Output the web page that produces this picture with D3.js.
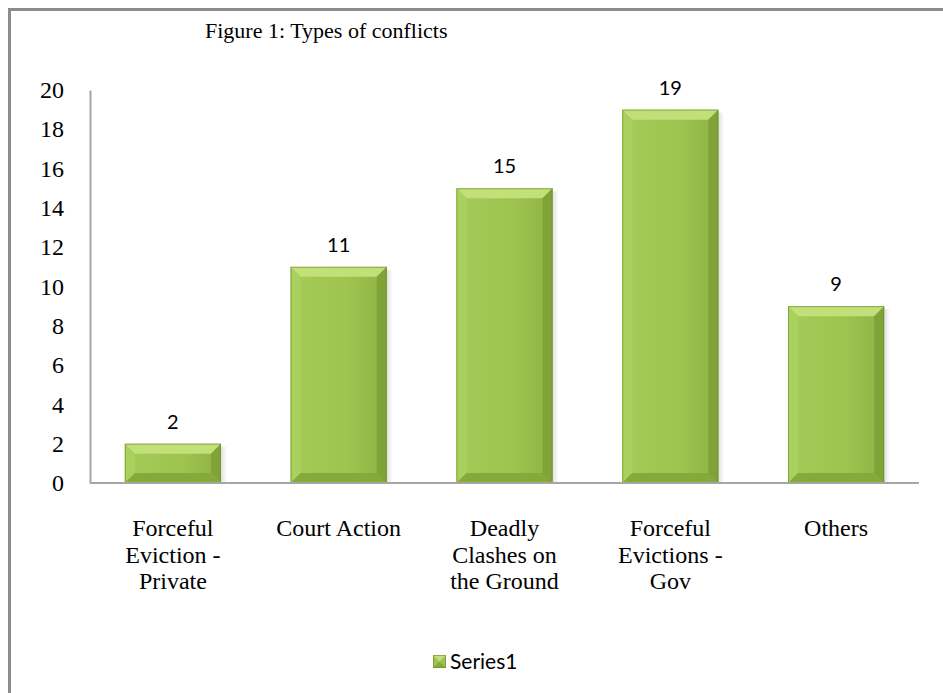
<!DOCTYPE html>
<html>
<head>
<meta charset="utf-8">
<script src="https://cdn.jsdelivr.net/npm/d3@7"></script>
<style>
  html, body { margin: 0; padding: 0; background: #fff; }
  svg { display: block; }
</style>
</head>
<body>
<svg id="chart"></svg>
<script>
// Chart data
const categories = [
  'Forceful Eviction - Private',
  'Court Action',
  'Deadly Clashes on the Ground',
  'Forceful Evictions - Gov',
  'Others'
]
// wrapped lines for the category axis, as in the picture
const categoryLines = [
  ['Forceful', 'Eviction -', 'Private'],
  ['Court Action'],
  ['Deadly', 'Clashes on', 'the Ground'],
  ['Forceful', 'Evictions -', 'Gov'],
  ['Others']
]
const values = [2, 11, 15, 19, 9]
const yTicks = [0, 2, 4, 6, 8, 10, 12, 14, 16, 18, 20]
const seriesName = 'Series1'
const titleText = 'Figure 1: Types of conflicts'

const width = 943
const height = 693
const serif = '"Liberation Serif", "Times New Roman", serif'
const sans = 'Lato, Carlito, Calibri, "Open Sans", sans-serif'
const axisColor = '#a6a6a6'

const svg = d3.select('#chart')
  .attr('width', width)
  .attr('height', height)

// outer frame (only top and left edges show in the picture)
svg.append('path')
  .attr('d', `M9.5,${height + 5} L9.5,9.5 L${width + 5},9.5`)
  .attr('fill', 'none')
  .attr('stroke', '#8c8c8c')
  .attr('stroke-width', 3)

// Scales
const x = d3.scaleBand()
  .domain(categories)
  .range([90, 919])
  .paddingInner(0.42)
  .paddingOuter(0.21)

const y = d3.scaleLinear()
  .domain([0, 20])
  .range([483, 90])

// gradients for the bevelled bars
const defs = svg.append('defs')
const face = defs.append('linearGradient')
  .attr('id', 'face').attr('x1', 0).attr('x2', 1).attr('y1', 0).attr('y2', 0)
face.append('stop').attr('offset', '0%').attr('stop-color', '#a5cb58')
face.append('stop').attr('offset', '60%').attr('stop-color', '#9ec34f')
face.append('stop').attr('offset', '100%').attr('stop-color', '#8fb344')
const shadow = defs.append('linearGradient')
  .attr('id', 'shadow').attr('x1', 0).attr('x2', 1)
shadow.append('stop').attr('offset', '0%').attr('stop-color', '#000').attr('stop-opacity', 0.12)
shadow.append('stop').attr('offset', '100%').attr('stop-color', '#000').attr('stop-opacity', 0)

// Y axis (labels only, no tick marks)
const yAxis = svg.append('g')
  .attr('transform', 'translate(90,0)')
  .call(d3.axisLeft(y).tickValues(yTicks).tickSize(0).tickPadding(26))
yAxis.select('.domain').attr('stroke', axisColor).attr('stroke-width', 2)
yAxis.selectAll('text')
  .attr('font-family', serif)
  .attr('font-size', 24)
  .attr('fill', '#000')

// Bars
const bevel = 10
svg.append('g')
  .selectAll('g')
  .data(values)
  .join('g')
  .each(function(v, i) {
    const g = d3.select(this)
    const x0 = x(categories[i])
    const x1 = x0 + x.bandwidth()
    const y0 = y(v)
    const y1 = y(0)
    const b = Math.min(bevel, (y1 - y0) / 2)

    // soft shadow on the right
    g.append('rect')
      .attr('x', x1).attr('y', y0 + 3)
      .attr('width', 6).attr('height', y1 - y0 - 3)
      .attr('fill', 'url(#shadow)')

    g.append('rect')
      .attr('x', x0).attr('y', y0)
      .attr('width', x1 - x0).attr('height', y1 - y0)
      .attr('fill', 'url(#face)')

    const poly = pts => g.append('polygon').attr('points', pts.map(p => p.join(',')).join(' '))
    // top bevel
    poly([[x0, y0], [x1, y0], [x1 - b, y0 + b], [x0 + b, y0 + b]]).attr('fill', '#c2e07a')
    // left bevel
    poly([[x0, y0], [x0 + b, y0 + b], [x0 + b, y1 - b], [x0, y1]]).attr('fill', '#aad05e')
    // right bevel
    poly([[x1, y0], [x1, y1], [x1 - b, y1 - b], [x1 - b, y0 + b]]).attr('fill', '#80a338')
    // bottom bevel
    poly([[x0, y1], [x0 + b, y1 - b], [x1 - b, y1 - b], [x1, y1]]).attr('fill', '#86a93c')
    // dark edge
    g.append('rect')
      .attr('x', x0 + 0.5).attr('y', y0 + 0.5)
      .attr('width', x1 - x0 - 1).attr('height', y1 - y0 - 1)
      .attr('fill', 'none')
      .attr('stroke', '#6b8a2a')
      .attr('stroke-opacity', 0.6)
  })

// X axis line
svg.append('line')
  .attr('x1', x.range()[0]).attr('x2', x.range()[1])
  .attr('y1', y(0)).attr('y2', y(0))
  .attr('stroke', axisColor)
  .attr('stroke-width', 2)

// Value labels
svg.append('g')
  .selectAll('text')
  .data(values)
  .join('text')
  .attr('x', (d, i) => x(categories[i]) + x.bandwidth() / 2)
  .attr('y', d => y(d) - 15)
  .attr('text-anchor', 'middle')
  .attr('font-family', sans)
  .attr('font-size', 20)
  .attr('fill', '#000')
  .text(d => d)

// Category labels
svg.append('g')
  .selectAll('text')
  .data(categories)
  .join('text')
  .attr('text-anchor', 'middle')
  .attr('font-family', serif)
  .attr('font-size', 24)
  .attr('fill', '#000')
  .each(function(d, i) {
    const cx = x(d) + x.bandwidth() / 2
    d3.select(this)
      .selectAll('tspan')
      .data(categoryLines[i])
      .join('tspan')
      .attr('x', cx)
      .attr('y', (t, j) => 536 + j * 26.5)
      .text(t => t)
  })

// Title
svg.append('text')
  .attr('x', 205)
  .attr('y', 38)
  .attr('font-family', serif)
  .attr('font-size', 22)
  .attr('fill', '#000')
  .text(titleText)

// Legend
const legend = svg.append('g').attr('transform', 'translate(433,655)')
legend.append('rect').attr('width', 13).attr('height', 13).attr('fill', '#9ec34f')
legend.append('polygon').attr('points', '0,0 13,0 6.5,6.5').attr('fill', '#c2e07a')
legend.append('polygon').attr('points', '0,13 13,13 6.5,6.5').attr('fill', '#86a93c')
legend.append('rect').attr('x', 0.5).attr('y', 0.5).attr('width', 12).attr('height', 12)
  .attr('fill', 'none').attr('stroke', '#6b8a2a').attr('stroke-opacity', 0.6)
legend.append('text')
  .attr('x', 17)
  .attr('y', 13.5)
  .attr('font-family', sans)
  .attr('font-size', 21)
  .attr('fill', '#000')
  .text(seriesName)
</script>
</body>
</html>
